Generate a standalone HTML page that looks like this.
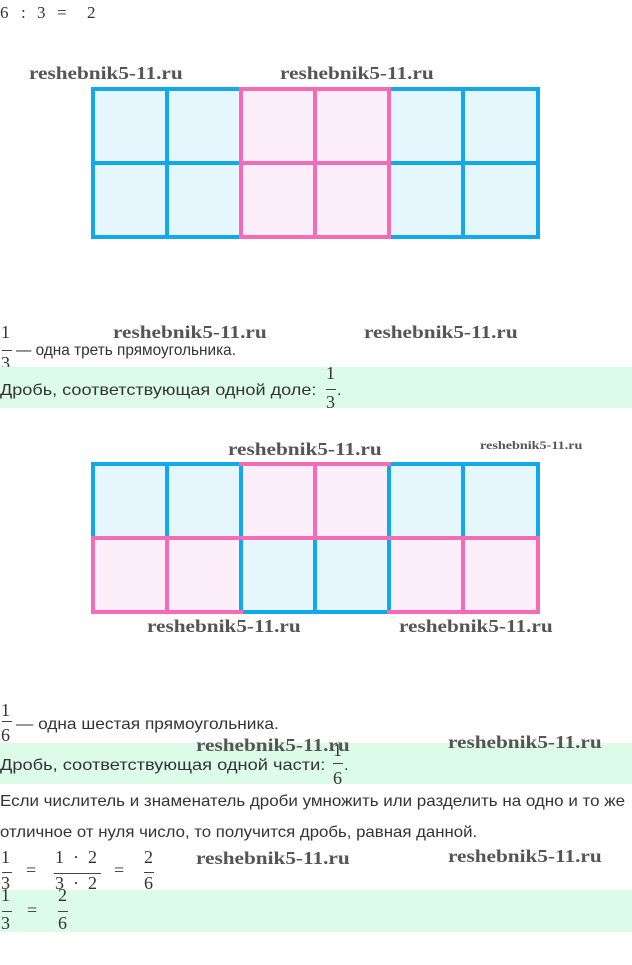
<!DOCTYPE html>
<html><head><meta charset="utf-8"><style>
body{margin:0;width:632px;height:965px;position:relative;background:#fff;overflow:hidden;font-family:"Liberation Sans",sans-serif;color:#333}
.a{position:absolute;white-space:nowrap}
.d{position:absolute;font-family:"Liberation Serif",serif;font-size:18px;line-height:18px;color:#333}
.bar{position:absolute;height:1px;background:#444}
.wm{position:absolute;font-family:"Liberation Serif",serif;font-weight:bold;font-size:18px;color:#555;white-space:nowrap;transform:scaleX(1.18);transform-origin:0 0}
.t{position:absolute;font-size:16px;line-height:16px;white-space:nowrap;color:#333;transform-origin:0 0}
.g{position:absolute;left:0;width:632px;background:#dcfce9}
.clip{position:absolute;left:0;width:632px;overflow:hidden}
</style></head><body>
<div class="d" style="left:0;top:4px;font-size:17px;">6</div>
<div class="d" style="left:21px;top:4px;font-size:17px;">:</div>
<div class="d" style="left:37px;top:4px;font-size:17px;">3</div>
<div class="d" style="left:57px;top:4px;font-size:17px;">=</div>
<div class="d" style="left:87px;top:4px;font-size:17px;">2</div>

<svg class="a" style="left:0;top:0" width="632" height="640">
<g stroke-width="4" stroke-linecap="square">
<rect x="93" y="89" width="148" height="148" fill="#e6f6fd"/>
<rect x="241" y="89" width="148" height="148" fill="#fdeffa"/>
<rect x="389" y="89" width="149" height="148" fill="#e6f6fd"/>
<path d="M93 89H241M93 163H241M93 237H241M93 89V237M167 89V237" stroke="#12a9ec" fill="none"/>
<path d="M389 89H538M389 163H538M389 237H538M538 89V237M463 89V237" stroke="#12a9ec" fill="none"/>
<path d="M241 89H389M241 163H389M241 237H389M241 89V237M315 89V237M389 89V237" stroke="#f56bb6" fill="none"/>

<rect x="93" y="464" width="148" height="74" fill="#e6f6fd"/>
<rect x="241" y="464" width="148" height="74" fill="#fdeffa"/>
<rect x="389" y="464" width="149" height="74" fill="#e6f6fd"/>
<rect x="93" y="538" width="148" height="74" fill="#fdeffa"/>
<rect x="241" y="538" width="148" height="74" fill="#e6f6fd"/>
<rect x="389" y="538" width="149" height="74" fill="#fdeffa"/>
<path d="M93 464H241M93 464V538M167 464V538M241 464V538M389 464H538M389 464V538M463 464V538M538 464V538M241 538V612M315 538V612M389 538V612M241 612H389" stroke="#12a9ec" fill="none"/>
<path d="M241 464H389M315 464V538M93 538H538M93 538V612M167 538V612M93 612H241M389 612H538M463 538V612M538 538V612" stroke="#f56bb6" fill="none"/>
</g>
</svg>
<div class="wm" style="left:29px;top:63px">reshebnik5-11.ru</div>
<div class="wm" style="left:280px;top:63px">reshebnik5-11.ru</div>
<div class="wm" style="left:228px;top:439px">reshebnik5-11.ru</div>
<div class="wm" style="left:480px;top:438px;font-size:12px">reshebnik5-11.ru</div>
<div class="wm" style="left:147px;top:616px">reshebnik5-11.ru</div>
<div class="wm" style="left:399px;top:616px">reshebnik5-11.ru</div>

<!-- line 1/3 -->
<div class="clip" style="top:320px;height:48px">
<div class="d" style="left:1px;top:3px">1</div><div class="bar" style="left:2px;top:30px;width:10px"></div><div class="d" style="left:1px;top:34px">3</div>
<div class="t" style="left:16px;top:23px;transform:scaleX(0.96)">— одна треть прямоугольника.</div>
</div>
<div class="wm" style="left:113px;top:322px">reshebnik5-11.ru</div>
<div class="wm" style="left:364px;top:322px">reshebnik5-11.ru</div>

<div class="g" style="top:367px;height:41px"></div>
<div class="clip" style="top:360px;height:48px">
<div class="t" style="left:0;top:23px;transform:scaleX(1.13)">Дробь, соответствующая одной доле:</div>
<div class="d" style="left:326px;top:4px">1</div><div class="bar" style="left:326px;top:29px;width:10px"></div><div class="d" style="left:326px;top:33px">3</div>
<div class="t" style="left:337px;top:23px">.</div>
</div>

<!-- 1/6 -->
<div class="clip" style="top:698px;height:45px">
<div class="d" style="left:1px;top:3px">1</div><div class="bar" style="left:2px;top:23px;width:10px"></div><div class="d" style="left:1px;top:28px">6</div>
<div class="t" style="left:16px;top:19px;transform:scaleX(1.08)">— одна шестая прямоугольника.</div>
</div>
<div class="g" style="top:743px;height:41px"></div>
<div class="clip" style="top:736px;height:48px">
<div class="t" style="left:0;top:22px;transform:scaleX(1.14)">Дробь, соответствующая одной части:</div>
<div class="d" style="left:333px;top:5px">1</div><div class="bar" style="left:333px;top:27px;width:10px"></div><div class="d" style="left:333px;top:33px">6</div>
<div class="t" style="left:344px;top:22px">.</div>
</div>
<div class="wm" style="left:196px;top:735px">reshebnik5-11.ru</div>
<div class="wm" style="left:448px;top:732px">reshebnik5-11.ru</div>

<div class="t" style="left:0;top:794px;transform:scaleX(1.06)">Если числитель и знаменатель дроби умножить или разделить на одно и то же</div>
<div class="t" style="left:0;top:825px;transform:scaleX(1.05)">отличное от нуля число, то получится дробь, равная данной.</div>

<div class="clip" style="top:845px;height:45px">
<div class="d" style="left:1px;top:3px">1</div><div class="bar" style="left:2px;top:27px;width:10px"></div><div class="d" style="left:1px;top:29px">3</div>
<div class="d" style="left:26px;top:16px">=</div>
<div class="d" style="left:55px;top:3px">1 &nbsp;· &nbsp;2</div><div class="bar" style="left:54px;top:28px;width:47px"></div><div class="d" style="left:55px;top:29px">3 &nbsp;· &nbsp;2</div>
<div class="d" style="left:114px;top:16px">=</div>
<div class="d" style="left:144px;top:3px">2</div><div class="bar" style="left:144px;top:27px;width:10px"></div><div class="d" style="left:144px;top:29px">6</div>
</div>
<div class="wm" style="left:196px;top:848px">reshebnik5-11.ru</div>
<div class="wm" style="left:448px;top:846px">reshebnik5-11.ru</div>

<div class="g" style="top:890px;height:42px"></div>
<div class="clip" style="top:884px;height:48px">
<div class="d" style="left:1px;top:2px">1</div><div class="bar" style="left:2px;top:27px;width:10px"></div><div class="d" style="left:1px;top:30px">3</div>
<div class="d" style="left:27px;top:17px">=</div>
<div class="d" style="left:58px;top:2px">2</div><div class="bar" style="left:58px;top:27px;width:10px"></div><div class="d" style="left:58px;top:30px">6</div>
</div>
</body></html>
